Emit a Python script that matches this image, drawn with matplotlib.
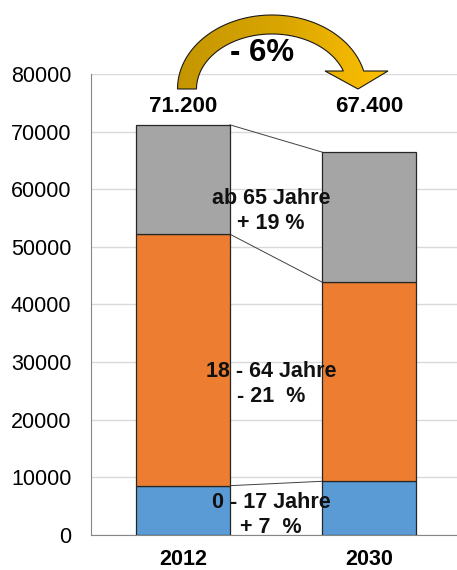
import numpy as np
import matplotlib.pyplot as plt
from matplotlib.patches import Polygon
from matplotlib.colors import LinearSegmentedColormap

plt.rcParams['font.family'] = ['Liberation Sans', 'DejaVu Sans']

# ====================== DATA ======================
years = ['2012', '2030']
age_0_17 = [8560, 9320]
age_18_64 = [43640, 34550]
age_65 = [18980, 22570]
total_labels = ['71.200', '67.400']
group_labels = ['0 - 17 Jahre\n+ 7  %', '18 - 64 Jahre\n- 21  %', 'ab 65 Jahre\n+ 19 %']
group_label_y = [3500, 26200, 56200]
change_label = '- 6%'

colors = ['#5B9BD5', '#ED7D31', '#A5A5A5']

fig = plt.figure(figsize=(4.57, 5.70), dpi=100)
ax = fig.add_axes([0.199, 0.0614, 0.801, 0.8088])

x = np.arange(len(years))
width = 0.504
bottoms = np.zeros(len(years))
tops = []
for vals, c in zip([age_0_17, age_18_64, age_65], colors):
    ax.bar(x, vals, width, bottom=bottoms, color=c, edgecolor='#262626', lw=0.9, zorder=3)
    bottoms = bottoms + np.array(vals)
    tops.append(bottoms.copy())

# connector lines between the bars
for t in tops:
    ax.plot([x[0] + width / 2, x[1] - width / 2], [t[0], t[1]], color='#404040', lw=0.7, zorder=2)

for xi, lab in zip(x, total_labels):
    ax.text(xi, 74300, lab, ha='center', va='center', fontsize=16, fontweight='bold', zorder=5)

for lab, yy in zip(group_labels, group_label_y):
    ax.text(0.473, yy, lab, ha='center', va='center', fontsize=15.5, fontweight='bold',
            linespacing=1.25, zorder=5, color='#111111')

ax.set_xlim(-0.495, 1.473)
ax.set_ylim(0, 80000)
ax.set_yticks(np.arange(0, 80001, 10000))
ax.set_xticks(x)
ax.set_xticklabels(years, fontsize=15.5, fontweight='bold')
ax.tick_params(axis='y', length=0, labelsize=15.5, pad=14)
ax.tick_params(axis='x', length=0, pad=10)
ax.grid(axis='y', color='#D9D9D9', lw=1.0, zorder=0)
ax.set_axisbelow(True)
for s in ['top', 'right']:
    ax.spines[s].set_visible(False)
ax.spines['left'].set_color('#868686')
ax.spines['bottom'].set_color('#868686')

# ====================== CURVED ARROW ======================
ov = fig.add_axes([0, 0, 1, 1])
ov.set_xlim(0, 457)
ov.set_ylim(570, 0)
ov.axis('off')

cx, cy = 272, 89
t_out = np.linspace(np.pi, np.arcsin(18 / 74), 80)
t_in = np.linspace(np.arcsin(18 / 55), np.pi, 80)
outer = np.column_stack([cx + 94.5 * np.cos(t_out), cy - 74 * np.sin(t_out)])
inner = np.column_stack([cx + 75.5 * np.cos(t_in), cy - 55 * np.sin(t_in)])
head = np.array([[388, 71], [358, 89], [325, 71]])
pts = np.vstack([outer, head, inner])
arrow = Polygon(pts, closed=True, facecolor='none', edgecolor='#1a1a1a', lw=0.8, zorder=6)
ov.add_patch(arrow)
grad = np.linspace(0, 1, 256).reshape(1, -1)
cmap = LinearSegmentedColormap.from_list('gold', ['#C49500', '#D9A600', '#FFC000'])
im = ov.imshow(grad, extent=[175, 390, 95, 10], cmap=cmap, aspect='auto', zorder=5)
im.set_clip_path(arrow)
ov.text(262, 53, change_label, ha='center', va='center', fontsize=22.5, fontweight='bold', zorder=7)

plt.savefig('out.png', dpi=100)
